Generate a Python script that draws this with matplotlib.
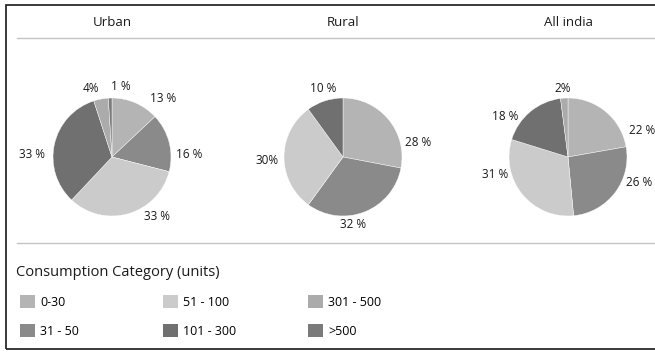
import matplotlib
matplotlib.use("Agg")
import matplotlib.pyplot as plt
from matplotlib.lines import Line2D
from matplotlib.patches import Patch, Rectangle

plt.rcParams["font.family"] = ["Open Sans", "DejaVu Sans"]

categories = ["0-30", "31 - 50", "51 - 100", "101 - 300", "301 - 500", ">500"]
colors = ["#b4b4b4", "#8a8a8a", "#cbcbcb", "#707070", "#ababab", "#7a7a7a"]

regions = ["Urban", "Rural", "All india"]
urban = [13, 16, 33, 33, 4, 1]
rural = [28, 32, 30, 10, 0, 0]
all_india = [22, 26, 31, 18, 2, 0]
urban_labels = ["13 %", "16 %", "33 %", "33 %", "4%", "1 %"]
rural_labels = ["28 %", "32 %", "30%", "10 %", "", ""]
all_india_labels = ["22 %", "26 %", "31 %", "18 %", "2%", ""]

W, H = 655, 352
fig = plt.figure(figsize=(W / 100, H / 100), dpi=100)

# outer frame (cropped on the right, like the source) and separators
fig.patches.append(Rectangle((6 / W, 1 - 349 / H), 660 / W, 344 / H, transform=fig.transFigure,
                             fill=False, edgecolor="#2a2a2a", linewidth=1.3))
for yy in (38, 243):
    fig.lines.append(Line2D([17 / W, 1.0], [1 - yy / H, 1 - yy / H],
                            transform=fig.transFigure, color="#c4c4c4", linewidth=1))

centers = [112, 343, 568]
r = 59
# label centres in pixels relative to the pie centre (dx right, dy down), by slice
label_offsets = [
    [(51, -58), (77, -2), (45, 60), (-80, -2), (-21, -69), (9, -70)],
    [(75, -14), (10, 68), (-76, 3), (-20, -69), None, None],
    [(74, -27), (71, 25), (-73, 18), (-63, -40), (-5, -69), None],
]
for name, vals, labs, cx, offs in zip(regions, [urban, rural, all_india],
                                      [urban_labels, rural_labels, all_india_labels],
                                      centers, label_offsets):
    ax = fig.add_axes([(cx - r) / W, (H - 157 - r) / H, 2 * r / W, 2 * r / H])
    keep = [i for i, v in enumerate(vals) if v > 0]
    ax.pie([vals[i] for i in keep], colors=[colors[i] for i in keep],
           startangle=90, counterclock=False, radius=1,
           wedgeprops=dict(edgecolor="white", linewidth=0.3))
    ax.set_xlim(-1, 1)
    ax.set_ylim(-1, 1)
    for i in keep:
        dx, dy = offs[i]
        ax.text(dx / r, -dy / r, labs[i], ha="center", va="center",
                fontsize=8.5, color="#1a1a1a", clip_on=False)
    fig.text(cx / W, 1 - 22 / H, name, ha="center", va="center", fontsize=9.5, color="#1a1a1a")

fig.text(16 / W, 1 - 273 / H, "Consumption Category (units)", ha="left", va="center",
         fontsize=10.5, color="#1a1a1a")

col_x = [20, 163, 308]
for c, x in enumerate(col_x):
    idx = [c * 2, c * 2 + 1]
    handles = [Patch(facecolor=colors[i], edgecolor="none") for i in idx]
    fig.legend(handles, [categories[i] for i in idx], loc="upper left",
               bbox_to_anchor=(x / W, 1 - 295 / H), frameon=False, fontsize=9,
               handlelength=1.2, handleheight=1.2, handletextpad=0.4,
               labelspacing=1.25, borderpad=0, borderaxespad=0)

fig.savefig("out.png", dpi=100, facecolor="white")
